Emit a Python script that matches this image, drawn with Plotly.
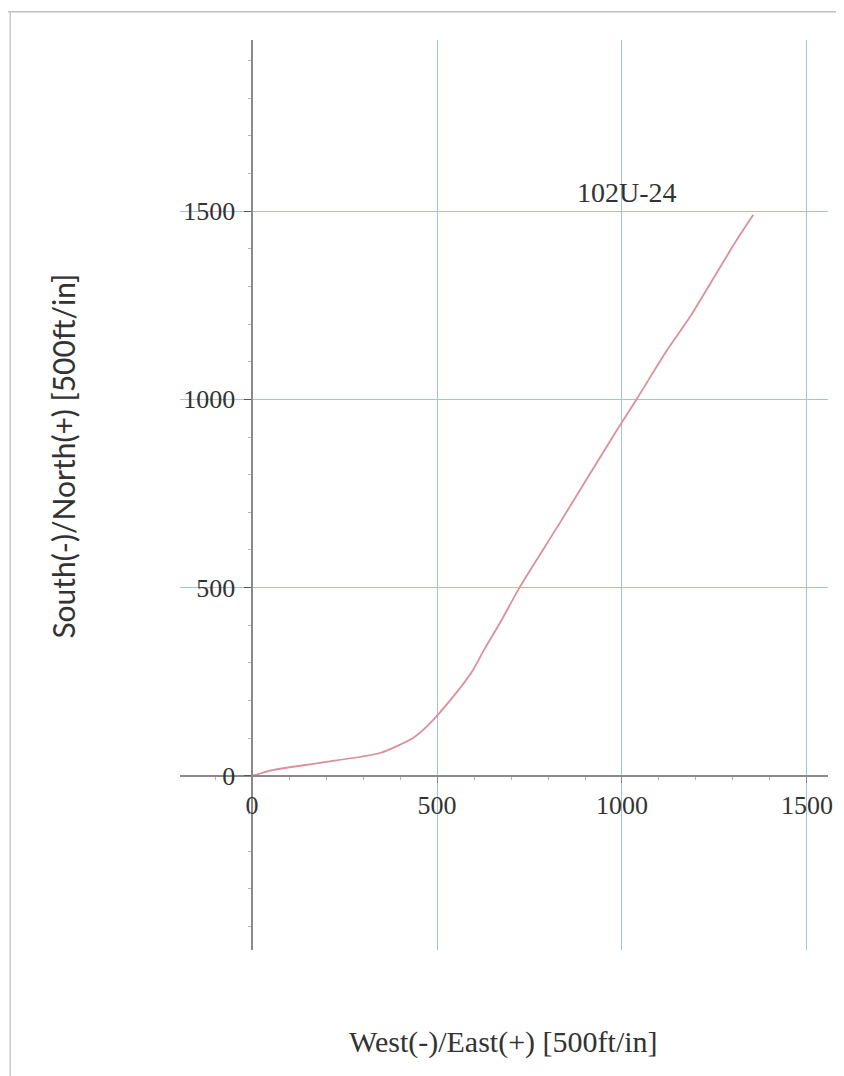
import plotly.graph_objects as go

# Well path: East (+) / North (+) coordinates
east = [0, 57, 184, 346, 435, 476, 543, 597, 630, 670, 724, 832, 986, 1040, 1122, 1184, 1305, 1355]
north = [0, 16, 35, 61, 101, 135, 210, 281, 340, 406, 502, 672, 918, 1001, 1131, 1219, 1415, 1490]

well_name = "102U-24"
label_pos = (1013, 1548)

x_range = [-195, 1557]
y_range = [-462, 1954]
tick_vals = [0, 500, 1000, 1500]
tick_text = ["0", "500", "1000", "1500"]

x_title = "West(-)/East(+) [500ft/in]"
y_title = "South(-)/North(+) [500ft/in]"

grid_col = "#9fc4dc"
axis_col = "#8a8a8a"
curve_col = "#dc8f9c"
serif = "Liberation Serif, Times New Roman, serif"

fig = go.Figure()
fig.add_trace(go.Scatter(
    x=east, y=north, mode="lines",
    line=dict(color=curve_col, width=1.8, shape="spline", smoothing=0.6),
    showlegend=False, hoverinfo="x+y",
))

ypos_of_x = (0 - y_range[0]) / (y_range[1] - y_range[0])
xpos_of_y = (0 - x_range[0]) / (x_range[1] - x_range[0])

fig.update_layout(
    width=844, height=1076,
    margin=dict(l=172, r=24, t=32, b=134),
    paper_bgcolor="white", plot_bgcolor="white",
    xaxis=dict(
        range=x_range, anchor="free", position=ypos_of_x,
        tickvals=tick_vals, ticktext=tick_text,
        showgrid=True, gridcolor=grid_col, gridwidth=1.2,
        zeroline=False, showline=True, linecolor=axis_col, linewidth=1.5,
        ticks="outside", ticklen=6, tickcolor=axis_col,
        minor=dict(dtick=100, ticks="outside", ticklen=3, tickcolor="#b5b5b5", showgrid=False),
        tickfont=dict(family=serif, size=26, color="#333333"),
        ticklabelstandoff=0,
    ),
    yaxis=dict(
        range=y_range, anchor="free", position=xpos_of_y,
        tickvals=tick_vals, ticktext=tick_text,
        showgrid=True, gridcolor=grid_col, gridwidth=1.2,
        zeroline=False, showline=True, linecolor=axis_col, linewidth=1.5,
        ticks="outside", ticklen=7, tickcolor="#555555",
        minor=dict(dtick=100, ticks="outside", ticklen=3, tickcolor="#b5b5b5", showgrid=False),
        tickfont=dict(family=serif, size=26, color="#333333"),
        ticklabelstandoff=4,
    ),
    annotations=[
        dict(x=label_pos[0], y=label_pos[1], xref="x", yref="y", text=well_name,
             showarrow=False, font=dict(family=serif, size=28, color="#333333")),
        dict(x=0.499, y=-0.101, xref="paper", yref="paper", text=x_title,
             showarrow=False, yanchor="middle",
             font=dict(family=serif, size=30, color="#333333")),
        dict(x=-0.181, y=0.543, xref="paper", yref="paper", text=y_title,
             showarrow=False, textangle=-90, xanchor="center",
             font=dict(family="Lato, sans-serif", size=30, color="#333333")),
    ],
    shapes=[
        # scanned page frame
        dict(type="line", xref="paper", yref="paper", x0=-0.27, x1=1.03, y0=1.031, y1=1.031,
             line=dict(color="#c0c0c0", width=1.5)),
        dict(type="line", xref="paper", yref="paper", x0=-0.262, x1=-0.262, y0=-0.14, y1=1.031,
             line=dict(color="#c8c8c8", width=1.5)),
    ],
)

fig.write_html("out.html")
